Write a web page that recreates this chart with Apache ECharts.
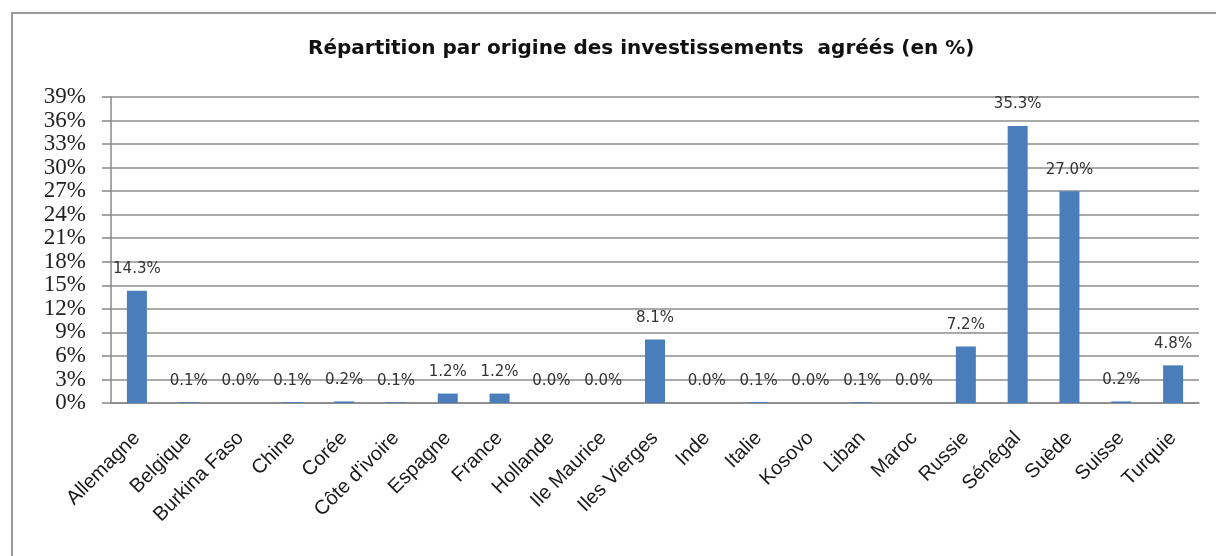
<!DOCTYPE html>
<html>
<head>
<meta charset="utf-8">
<script src="https://cdn.jsdelivr.net/npm/echarts@6/dist/echarts.min.js"></script>
<style>
  html, body { margin: 0; padding: 0; background: #fff; overflow: hidden; }
  #wrap { position: relative; width: 1216px; height: 556px; }
  #frame { position: absolute; left: 11px; top: 12px; width: 1300px; height: 700px;
           border-top: 2px solid #9a9a9a; border-left: 2px solid #9a9a9a; }
  #chart { position: absolute; left: 0; top: 0; width: 1216px; height: 556px; }
</style>
</head>
<body>
<div id="wrap">
  <div id="frame"></div>
  <div id="chart"></div>
</div>
<script>
const countries = ['Allemagne', 'Belgique', 'Burkina Faso', 'Chine', 'Corée', "Côte d'ivoire", 'Espagne', 'France', 'Hollande', 'Ile Maurice', 'Iles Vierges', 'Inde', 'Italie', 'Kosovo', 'Liban', 'Maroc', 'Russie', 'Sénégal', 'Suède', 'Suisse', 'Turquie']
const shares = [14.3, 0.1, 0.0, 0.1, 0.2, 0.1, 1.2, 1.2, 0.0, 0.0, 8.1, 0.0, 0.1, 0.0, 0.1, 0.0, 7.2, 35.3, 27.0, 0.2, 4.8]
const yMin = 0
const yMax = 39
const yStep = 3

let myChart = echarts.init(document.getElementById('chart'))
const options = {
  animation: false,
  title: {
    text: 'Répartition par origine des investissements  agréés (en %)',
    left: 303,
    top: 34,
    textStyle: {
      fontFamily: 'DejaVu Sans',
      fontWeight: 'bold',
      fontSize: 20,
      color: '#111'
    }
  },
  grid: {
    left: 111,
    right: 17,
    top: 97,
    bottom: 153
  },
  xAxis: {
    type: 'category',
    data: countries,
    boundaryGap: true,
    axisLine: { lineStyle: { color: '#888', width: 1.5 } },
    axisTick: { length: 6, lineStyle: { color: '#888', width: 1.5 } },
    axisLabel: {
      interval: 0,
      rotate: 45,
      margin: 32,
      fontFamily: 'Liberation Sans',
      fontSize: 20,
      color: '#1a1a1a'
    }
  },
  yAxis: {
    type: 'value',
    min: yMin,
    max: yMax,
    interval: yStep,
    axisLine: { show: true, lineStyle: { color: '#888', width: 1.5 } },
    axisTick: { show: true, length: 9, lineStyle: { color: '#888', width: 1.5 } },
    splitLine: { lineStyle: { color: '#8c8c8c', width: 1.5 } },
    axisLabel: {
      margin: 25,
      fontFamily: 'Liberation Serif',
      fontSize: 23,
      color: '#222',
      formatter: v => v + '%'
    }
  },
  series: [
    {
      type: 'bar',
      data: shares,
      barWidth: 20,
      itemStyle: { color: '#4a7ebb' },
      label: {
        show: true,
        position: 'top',
        distance: 14,
        fontFamily: 'DejaVu Sans',
        fontSize: 15,
        color: '#333',
        formatter: p => p.value.toFixed(1) + '%'
      }
    }
  ]
}
myChart.setOption(options)
</script>
</body>
</html>
